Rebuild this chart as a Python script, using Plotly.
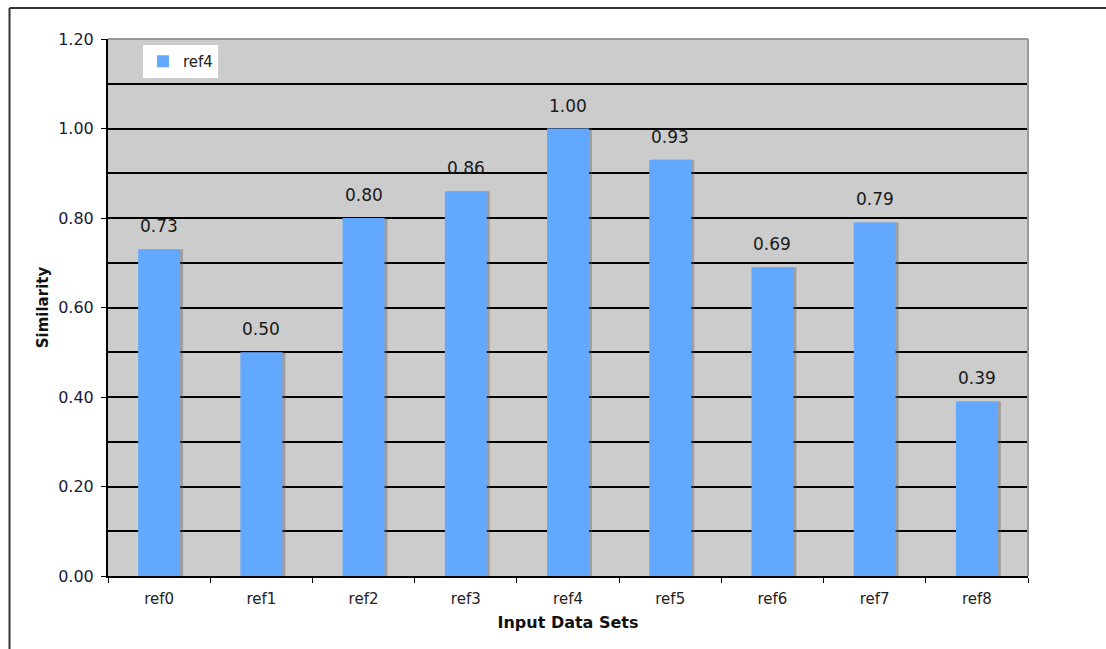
import plotly.graph_objects as go

# Similarity of each input data set against ref4
categories = ["ref0", "ref1", "ref2", "ref3", "ref4", "ref5", "ref6", "ref7", "ref8"]
similarity = [0.73, 0.50, 0.80, 0.86, 1.00, 0.93, 0.69, 0.79, 0.39]
series_name = "ref4"
y_ticks = [0.0, 0.2, 0.4, 0.6, 0.8, 1.0, 1.2]

W, H = 1106, 649
L, R, T, B = 108, 78, 39, 73
plot_w = W - L - R
plot_h = H - T - B

BAR_COLOR = "#63a8ff"
BG = "#cccccc"
FONT = "DejaVu Sans"
bar_width = 0.41

fig = go.Figure()

# soft drop shadow behind each bar
fig.add_trace(go.Bar(
    x=categories, y=similarity,
    width=bar_width, offset=-bar_width / 2 + 3.0 / (plot_w / len(categories)),
    marker=dict(color="rgba(90,90,90,0.4)", line=dict(width=0)),
    showlegend=False, hoverinfo="skip",
))

fig.add_trace(go.Bar(
    x=categories, y=similarity, name=series_name,
    width=bar_width, offset=-bar_width / 2,
    marker=dict(color=BAR_COLOR, line=dict(width=0)),
))

# value labels above bars
for c, v in zip(categories, similarity):
    fig.add_annotation(
        x=c, y=v, text=f"{v:.2f}", showarrow=False,
        yanchor="bottom", yshift=11,
        font=dict(family=FONT, size=17, color="#1a1a1a"),
    )

# outer page frame (left and top edges)
px = lambda p: (p - L) / plot_w
py = lambda p: (H - B - p) / plot_h
fig.add_shape(type="line", xref="paper", yref="paper",
              x0=px(9.5), x1=px(W + 5), y0=py(8), y1=py(8),
              line=dict(color="#333333", width=2))
fig.add_shape(type="line", xref="paper", yref="paper",
              x0=px(9.5), x1=px(9.5), y0=py(8), y1=py(H + 5),
              line=dict(color="#333333", width=2))

# light plot border on top and right
fig.add_shape(type="line", xref="paper", yref="paper",
              x0=0, x1=1, y0=1, y1=1, layer="above",
              line=dict(color="#999999", width=2))
fig.add_shape(type="line", xref="paper", yref="paper",
              x0=1, x1=1, y0=0, y1=1, layer="above",
              line=dict(color="#999999", width=2))

fig.update_layout(
    width=W, height=H,
    margin=dict(l=L, r=R, t=T, b=B, pad=0),
    paper_bgcolor="white", plot_bgcolor=BG,
    barmode="overlay",
    font=dict(family=FONT, size=15, color="#222222"),
    showlegend=True,
    legend=dict(
        x=px(143), y=py(45), xanchor="left", yanchor="top",
        bgcolor="white", borderwidth=0,
        font=dict(family=FONT, size=15, color="#222222"),
        itemwidth=30, tracegroupgap=0,
    ),
    xaxis=dict(
        type="category", tickson="boundaries",
        ticks="outside", ticklen=5, tickcolor="black",
        showline=True, linecolor="black", linewidth=2,
        showgrid=False, tickfont=dict(size=15), ticklabelstandoff=8,
        title=dict(text="<b>Input Data Sets</b>", font=dict(size=16, color="#111111"), standoff=10),
    ),
    yaxis=dict(
        range=[0, 1.2], tickvals=y_ticks, ticktext=[f"{t:.2f}" for t in y_ticks],
        ticks="outside", ticklen=5, tickcolor="black",
        showline=True, linecolor="black", linewidth=2,
        showgrid=True, gridcolor="black", gridwidth=1.5,
        minor=dict(dtick=0.1, tick0=0, showgrid=True, gridcolor="black", gridwidth=1.5),
        zeroline=False, tickfont=dict(size=16, color="#1a1a3a"), ticklabelstandoff=4,
        title=dict(text="<b>Similarity</b>", font=dict(size=15, color="#111111"), standoff=6),
    ),
)

fig.write_html("out.html")
